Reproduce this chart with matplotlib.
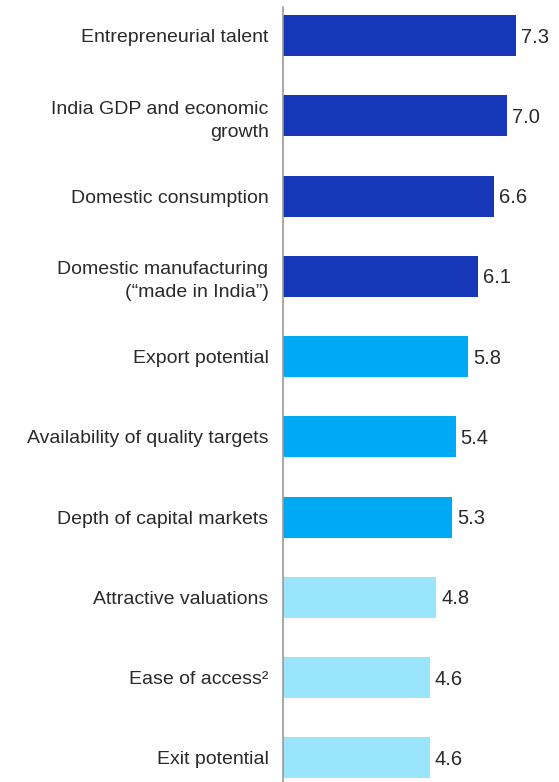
import matplotlib.pyplot as plt

plt.rcParams['font.family'] = ['Liberation Sans', 'DejaVu Sans']

categories = [
    "Entrepreneurial talent",
    "India GDP and economic\ngrowth",
    "Domestic consumption",
    "Domestic manufacturing\n(\u201cmade in India\u201d)",
    "Export potential",
    "Availability of quality targets",
    "Depth of capital markets",
    "Attractive valuations",
    "Ease of access\u00b2",
    "Exit potential",
]
values = [7.3, 7.0, 6.6, 6.1, 5.8, 5.4, 5.3, 4.8, 4.6, 4.6]
tiers = [0, 0, 0, 0, 1, 1, 1, 2, 2, 2]
tier_colors = ["#1638B8", "#00A9F4", "#99E5FC"]

fig = plt.figure(figsize=(5.59, 7.82), dpi=100)
ax = fig.add_axes([282.5 / 559, 0, 1 - 282.5 / 559, 775 / 782])

ypos = list(range(len(values)))
ax.barh(ypos, values, height=0.51, color=[tier_colors[t] for t in tiers])

for y, v in zip(ypos, values):
    ax.text(v + 0.15, y + 0.02, f"{v:.1f}", va="center", ha="left",
            fontsize=14.5, color="#2a2a2a")

ax.set_xlim(0, 8.63)
ax.set_ylim(9.3, -0.355)
ax.set_yticks(ypos)
ax.set_yticklabels(categories, fontsize=14, color="#2a2a2a",
                   ha="right", linespacing=1.45)
ax.tick_params(axis="y", length=0, pad=10)
ax.set_xticks([])

for side in ["top", "right", "bottom"]:
    ax.spines[side].set_visible(False)
ax.spines["left"].set_color("#9a9a9a")
ax.spines["left"].set_linewidth(1.2)

fig.savefig("out.png", dpi=100)
